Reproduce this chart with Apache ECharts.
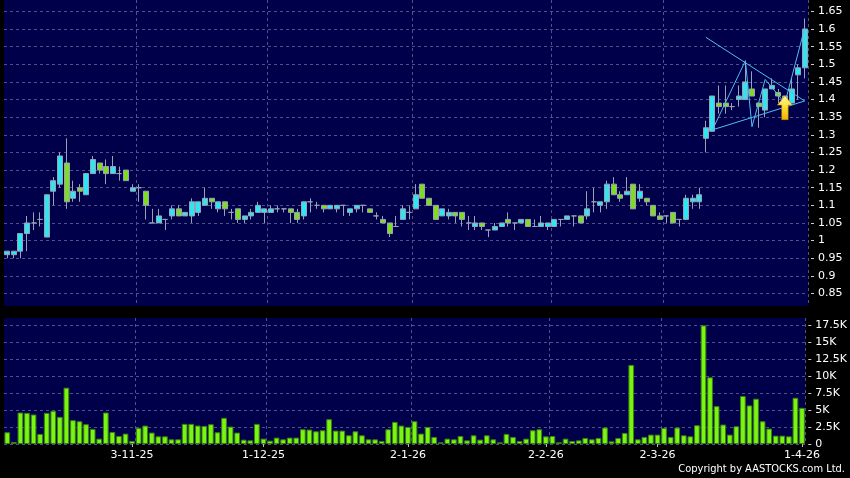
<!DOCTYPE html>
<html>
<head>
<meta charset="utf-8">
<script src="https://cdn.jsdelivr.net/npm/echarts@6/dist/echarts.min.js"></script>
<style>
html,body{margin:0;padding:0;background:#000;}
#chart{width:850px;height:478px;}
</style>
</head>
<body>
<div id="chart"></div>
<script>
const dates = [
'3-10-25','6-10-25','8-10-25','9-10-25','10-10-25','13-10-25','14-10-25','15-10-25','16-10-25','17-10-25',
'20-10-25','21-10-25','22-10-25','23-10-25','24-10-25','27-10-25','28-10-25','30-10-25','31-10-25',
'3-11-25','4-11-25','5-11-25','6-11-25','7-11-25','10-11-25','11-11-25','12-11-25','13-11-25','14-11-25',
'17-11-25','18-11-25','19-11-25','20-11-25','21-11-25','24-11-25','25-11-25','26-11-25','27-11-25','28-11-25',
'1-12-25','2-12-25','3-12-25','4-12-25','5-12-25','8-12-25','9-12-25','10-12-25','11-12-25','12-12-25',
'15-12-25','16-12-25','17-12-25','18-12-25','19-12-25','22-12-25','23-12-25','24-12-25','26-12-25','29-12-25','30-12-25','31-12-25',
'2-1-26','5-1-26','6-1-26','7-1-26','8-1-26','9-1-26','12-1-26','13-1-26','14-1-26','15-1-26','16-1-26',
'19-1-26','20-1-26','21-1-26','22-1-26','23-1-26','26-1-26','27-1-26','28-1-26','29-1-26','30-1-26',
'2-2-26','3-2-26','4-2-26','5-2-26','6-2-26','9-2-26','10-2-26','11-2-26','12-2-26','13-2-26','16-2-26','20-2-26',
'23-2-26','24-2-26','25-2-26','26-2-26','27-2-26',
'2-3-26','3-3-26','4-3-26','5-3-26','6-3-26','9-3-26','10-3-26','11-3-26','12-3-26','13-3-26',
'16-3-26','17-3-26','18-3-26','19-3-26','20-3-26','23-3-26','24-3-26','25-3-26','26-3-26','27-3-26','30-3-26','31-3-26',
'1-4-26'
];
const tickLabels = ['3-11-25','1-12-25','2-1-26','2-2-26','2-3-26','1-4-26'];

const opens = [
0.96,0.96,0.97,1.02,1.05,1.06,1.01,1.14,1.16,1.22,
1.12,1.15,1.13,1.19,1.22,1.21,1.19,1.19,1.20,1.14,
1.15,1.14,1.05,1.05,1.06,1.07,1.09,1.07,1.07,1.08,
1.10,1.12,1.09,1.11,1.08,1.09,1.06,1.07,1.08,1.08,
1.08,1.09,1.09,1.09,1.08,1.07,1.11,1.10,1.10,1.09,
1.09,1.10,1.08,1.09,1.10,1.09,1.07,1.06,1.05,1.04,
1.06,1.08,1.09,1.16,1.12,1.10,1.07,1.07,1.08,1.08,
1.05,1.04,1.05,1.03,1.03,1.04,1.06,1.05,1.05,1.06,
1.04,1.04,1.04,1.04,1.06,1.06,1.07,1.07,1.07,1.11,
1.10,1.11,1.16,1.13,1.13,1.16,1.12,1.12,1.10,1.07,
1.07,1.08,1.06,1.06,1.11,1.11,1.29,1.31,1.39,1.39,
1.38,1.40,1.40,1.43,1.39,1.37,1.43,1.42,1.41,1.39,
1.47,1.49
];
const closes = [
0.97,0.97,1.02,1.05,1.05,1.06,1.13,1.17,1.24,1.11,
1.14,1.14,1.19,1.23,1.20,1.19,1.21,1.19,1.17,1.15,
1.15,1.10,1.05,1.07,1.06,1.09,1.07,1.08,1.11,1.11,
1.12,1.11,1.11,1.09,1.08,1.06,1.07,1.08,1.10,1.09,
1.09,1.09,1.09,1.08,1.06,1.11,1.11,1.10,1.09,1.10,
1.10,1.10,1.09,1.10,1.10,1.08,1.07,1.05,1.02,1.04,
1.09,1.08,1.13,1.12,1.10,1.06,1.09,1.08,1.07,1.06,
1.05,1.05,1.04,1.03,1.04,1.05,1.05,1.05,1.06,1.04,
1.04,1.05,1.05,1.06,1.06,1.07,1.07,1.05,1.09,1.11,
1.11,1.16,1.13,1.12,1.14,1.09,1.14,1.11,1.07,1.06,
1.07,1.05,1.06,1.12,1.12,1.13,1.32,1.41,1.38,1.38,
1.38,1.41,1.45,1.41,1.38,1.43,1.44,1.41,1.40,1.43,
1.49,1.60
];
const lows = [
0.95,0.95,0.95,0.97,1.03,1.04,1.01,1.10,1.15,1.09,
1.11,1.11,1.13,1.19,1.19,1.16,1.19,1.17,1.17,1.14,
1.11,1.06,1.05,1.05,1.03,1.06,1.07,1.07,1.05,1.07,
1.10,1.09,1.08,1.07,1.06,1.05,1.05,1.06,1.08,1.05,
1.08,1.08,1.08,1.05,1.05,1.06,1.08,1.09,1.08,1.09,
1.08,1.07,1.07,1.08,1.08,1.08,1.06,1.05,1.01,1.04,
1.06,1.06,1.09,1.12,1.10,1.06,1.07,1.06,1.05,1.04,
1.03,1.03,1.03,1.01,1.03,1.04,1.04,1.03,1.05,1.04,
1.04,1.04,1.03,1.04,1.04,1.06,1.04,1.05,1.06,1.08,
1.08,1.09,1.13,1.11,1.13,1.09,1.11,1.10,1.07,1.06,
1.05,1.05,1.04,1.06,1.09,1.09,1.25,1.31,1.36,1.36,
1.37,1.38,1.40,1.41,1.32,1.35,1.43,1.39,1.39,1.39,
1.40,1.46
];
const highs = [
0.97,0.97,1.02,1.07,1.08,1.08,1.13,1.18,1.25,1.29,
1.17,1.16,1.19,1.24,1.22,1.23,1.24,1.21,1.20,1.16,
1.16,1.14,1.09,1.09,1.06,1.10,1.10,1.08,1.12,1.11,
1.15,1.12,1.11,1.11,1.09,1.09,1.07,1.09,1.11,1.09,
1.10,1.10,1.09,1.09,1.09,1.11,1.12,1.11,1.10,1.10,
1.10,1.10,1.09,1.10,1.10,1.09,1.08,1.07,1.05,1.07,
1.10,1.10,1.16,1.16,1.12,1.10,1.09,1.09,1.08,1.08,
1.07,1.07,1.05,1.03,1.05,1.05,1.08,1.05,1.06,1.06,
1.06,1.07,1.05,1.06,1.06,1.07,1.07,1.07,1.14,1.15,
1.11,1.17,1.18,1.14,1.18,1.16,1.16,1.12,1.10,1.08,
1.07,1.08,1.06,1.13,1.13,1.15,1.34,1.41,1.44,1.44,
1.39,1.44,1.51,1.48,1.39,1.43,1.46,1.43,1.41,1.46,
1.50,1.63
];
// volume in thousands
const volumes = [
1.73,0.30,4.63,4.58,4.34,1.48,4.58,4.88,3.99,8.28,
3.50,3.35,2.91,2.22,0.79,4.63,1.77,1.18,1.53,0.44,
2.37,2.71,1.68,1.13,1.13,0.69,0.69,2.96,2.96,2.71,
2.66,2.91,1.73,3.85,2.56,1.68,0.64,0.54,2.96,0.79,
0.49,0.94,0.69,0.94,0.94,2.17,2.12,1.87,2.02,3.65,
1.97,1.97,1.28,1.87,1.28,0.69,0.69,0.44,2.17,3.25,
2.71,2.51,3.35,1.53,2.51,1.04,0.25,0.79,0.69,1.18,
0.54,1.28,0.64,1.28,0.69,0.25,1.48,1.04,0.44,0.79,
2.02,2.17,1.13,1.18,0.25,0.79,0.44,0.54,0.89,0.69,
0.89,2.42,0.39,0.89,1.63,11.63,0.69,1.04,1.38,1.38,
2.37,1.04,2.42,1.28,1.13,2.76,17.45,9.81,5.57,2.86,
1.38,2.61,7.05,5.67,6.66,3.35,2.27,1.23,1.23,1.13,
6.80,5.32
];
const priceTicks = [0.85,0.9,0.95,1,1.05,1.1,1.15,1.2,1.25,1.3,1.35,1.4,1.45,1.5,1.55,1.6,1.65];
const volTicks = [0,2.5,5,7.5,10,12.5,15,17.5];

// drawn annotations (category index, price)
const trendDown = [[106.38,1.5765],[120.54,1.396]];
const trendUp = [[106.63,1.314],[120.54,1.396]];
const zigzag = [[106.63,1.314],[111.59,1.510],[113.46,1.323],[115.48,1.457],[117.6,1.39],[120.59,1.603]];
const arrowPoint = [[118.4,1.377]];

const candleData = opens.map((o,i)=>[o, closes[i], lows[i], highs[i]]);

const FONT = 'DejaVu Sans';
const gridLine = {show:true, lineStyle:{color:'#4d5387', type:[3,3], width:1}};
const vSplit = {show:true, interval:(i)=> i>0 && tickLabels.includes(dates[i-1]),
  lineStyle:{color:'#4d5387', type:[3,3], width:1}};

const chart = echarts.init(document.getElementById('chart'), null, {renderer:'canvas'});
chart.setOption({
  animation:false,
  backgroundColor:'#000000',
  grid:[
    {left:4, right:42, top:0, height:306, show:true, backgroundColor:'#00004a', borderWidth:0},
    {left:4, right:42, top:318, height:126, show:true, backgroundColor:'#00004a', borderWidth:0}
  ],
  xAxis:[
    {type:'category', gridIndex:0, data:dates, boundaryGap:true,
      axisLine:{show:false}, axisTick:{show:false}, axisLabel:{show:false}, splitLine:vSplit},
    {type:'category', gridIndex:1, data:dates, boundaryGap:true, offset:3,
      axisLine:{show:false},
      axisTick:{show:true, alignWithLabel:true, length:3, interval:(i,v)=>tickLabels.includes(v), lineStyle:{color:'#bbbbbb'}},
      axisLabel:{show:true, interval:(i,v)=>tickLabels.includes(v), color:'#ffffff', fontFamily:FONT, fontSize:11, margin:3},
      splitLine:vSplit}
  ],
  yAxis:[
    {type:'value', gridIndex:0, position:'right', min:0.8145, max:1.6823, offset:3,
      axisLine:{show:false},
      axisTick:{show:true, length:3, customValues:priceTicks, lineStyle:{color:'#cccccc'}},
      axisLabel:{show:true, customValues:priceTicks, color:'#ffffff', fontFamily:FONT, fontSize:11, margin:7},
      splitLine:gridLine},
    {type:'value', gridIndex:1, position:'right', min:0, max:18.53, offset:3,
      axisLine:{show:false},
      axisTick:{show:true, length:3, customValues:volTicks, lineStyle:{color:'#cccccc'}},
      axisLabel:{show:true, customValues:volTicks, color:'#ffffff', fontFamily:FONT, fontSize:11, margin:7,
        formatter:(v)=> v===0 ? '0' : v + 'K'},
      splitLine:gridLine}
  ],
  series:[
    {type:'candlestick', xAxisIndex:0, yAxisIndex:0, data:candleData, barWidth:5.5,
      itemStyle:{color:'#30e4f2', color0:'#7edc22', borderColor:'#98a2b4', borderColor0:'#98a2b4', borderColorDoji:'#98a2b4', borderWidth:1}},
    {type:'bar', xAxisIndex:1, yAxisIndex:1, data:volumes, barWidth:5.7,
      itemStyle:{color:'#7af512', borderColor:'#3a8010', borderWidth:1}},
    {type:'line', xAxisIndex:0, yAxisIndex:0, data:trendDown, symbol:'none', lineStyle:{color:'#52bdf0', width:1}, z:5},
    {type:'line', xAxisIndex:0, yAxisIndex:0, data:trendUp, symbol:'none', lineStyle:{color:'#52bdf0', width:1}, z:5},
    {type:'line', xAxisIndex:0, yAxisIndex:0, data:zigzag, symbol:'none', lineStyle:{color:'#52bdf0', width:1}, z:5},
    {type:'scatter', xAxisIndex:0, yAxisIndex:0, data:arrowPoint, z:6,
      symbol:'path://M7,0 L14,9 L10,9 L10,23 L4,23 L4,9 L0,9 Z', symbolSize:[15,24],
      itemStyle:{opacity:1, color:{type:'linear',x:0,y:0,x2:0,y2:1,colorStops:[{offset:0,color:'#fffaa0'},{offset:0.5,color:'#ffdd30'},{offset:1,color:'#f5b000'}]},
        borderColor:'#c89000', borderWidth:0.5}}
  ],
  graphic:[
    {type:'text', right:5, top:464, style:{text:'Copyright by AASTOCKS.com Ltd.', fill:'#ffffff', font:'11px "DejaVu Sans Condensed", "DejaVu Sans"'}}
  ]
});
</script>
</body>
</html>
